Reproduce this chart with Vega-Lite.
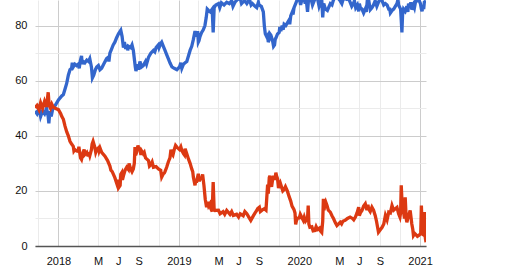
{
  "$schema": "https://vega.github.io/schema/vega-lite/v6.json",
  "width": 391,
  "height": 246,
  "autosize": {"type": "none"},
  "padding": {"left": 35, "top": 0, "right": 94, "bottom": 26},
  "background": "white",
  "config": {
    "view": {"stroke": null},
    "axis": {"labelFont": "Liberation Sans", "labelFontSize": 11, "labelColor": "#111111", "ticks": false, "tickSize": 0, "title": null}
  },
  "datasets": {
    "a": [
      {"date": "2017-10-22", "value": 49}, {"date": "2017-10-28", "value": 48}, {"date": "2017-11-03", "value": 50},
      {"date": "2017-11-08", "value": 47}, {"date": "2017-11-14", "value": 49}, {"date": "2017-11-20", "value": 48},
      {"date": "2017-11-26", "value": 50}, {"date": "2017-12-01", "value": 47}, {"date": "2017-12-03", "value": 44.5},
      {"date": "2017-12-06", "value": 49}, {"date": "2017-12-10", "value": 47}, {"date": "2017-12-16", "value": 50.5},
      {"date": "2017-12-22", "value": 51}, {"date": "2018-01-01", "value": 53}, {"date": "2018-01-11", "value": 54.5},
      {"date": "2018-01-16", "value": 55}, {"date": "2018-01-21", "value": 57}, {"date": "2018-01-26", "value": 59},
      {"date": "2018-01-31", "value": 62}, {"date": "2018-02-05", "value": 64}, {"date": "2018-02-10", "value": 64.5},
      {"date": "2018-02-12", "value": 66.5}, {"date": "2018-02-15", "value": 65}, {"date": "2018-02-20", "value": 66},
      {"date": "2018-02-25", "value": 65.5}, {"date": "2018-03-02", "value": 66}, {"date": "2018-03-05", "value": 64.5},
      {"date": "2018-03-08", "value": 67}, {"date": "2018-03-12", "value": 69}, {"date": "2018-03-14", "value": 66},
      {"date": "2018-03-17", "value": 67}, {"date": "2018-03-22", "value": 66.5}, {"date": "2018-03-28", "value": 67.5},
      {"date": "2018-04-02", "value": 67}, {"date": "2018-04-06", "value": 68}, {"date": "2018-04-11", "value": 65},
      {"date": "2018-04-14", "value": 61}, {"date": "2018-04-18", "value": 62}, {"date": "2018-04-23", "value": 64},
      {"date": "2018-04-27", "value": 65}, {"date": "2018-05-02", "value": 65.5}, {"date": "2018-05-07", "value": 64},
      {"date": "2018-05-12", "value": 64.5}, {"date": "2018-05-18", "value": 66}, {"date": "2018-05-27", "value": 68},
      {"date": "2018-06-01", "value": 68.5}, {"date": "2018-06-03", "value": 67}, {"date": "2018-06-06", "value": 70},
      {"date": "2018-06-11", "value": 71.5}, {"date": "2018-06-16", "value": 73}, {"date": "2018-06-21", "value": 74},
      {"date": "2018-06-26", "value": 75.5}, {"date": "2018-07-02", "value": 77}, {"date": "2018-07-09", "value": 78.3},
      {"date": "2018-07-13", "value": 76}, {"date": "2018-07-15", "value": 74}, {"date": "2018-07-17", "value": 72},
      {"date": "2018-07-20", "value": 74}, {"date": "2018-07-24", "value": 71.5}, {"date": "2018-07-28", "value": 73},
      {"date": "2018-07-30", "value": 71}, {"date": "2018-08-01", "value": 72.5}, {"date": "2018-08-08", "value": 72},
      {"date": "2018-08-12", "value": 73}, {"date": "2018-08-16", "value": 71}, {"date": "2018-08-20", "value": 67},
      {"date": "2018-08-22", "value": 65}, {"date": "2018-08-24", "value": 63.5}, {"date": "2018-08-28", "value": 66},
      {"date": "2018-09-01", "value": 64}, {"date": "2018-09-05", "value": 67}, {"date": "2018-09-10", "value": 65},
      {"date": "2018-09-15", "value": 65.5}, {"date": "2018-09-22", "value": 67}, {"date": "2018-09-25", "value": 66},
      {"date": "2018-10-01", "value": 68.5}, {"date": "2018-10-08", "value": 70}, {"date": "2018-10-16", "value": 71},
      {"date": "2018-10-20", "value": 70.5}, {"date": "2018-10-24", "value": 72}, {"date": "2018-10-31", "value": 73},
      {"date": "2018-11-02", "value": 72}, {"date": "2018-11-07", "value": 73.5}, {"date": "2018-11-10", "value": 74},
      {"date": "2018-11-15", "value": 72.5}, {"date": "2018-11-20", "value": 71}, {"date": "2018-11-25", "value": 69.5},
      {"date": "2018-11-30", "value": 68}, {"date": "2018-12-05", "value": 66.5}, {"date": "2018-12-11", "value": 65},
      {"date": "2018-12-18", "value": 64.5}, {"date": "2018-12-26", "value": 64}, {"date": "2019-01-03", "value": 65},
      {"date": "2019-01-07", "value": 66.5}, {"date": "2019-01-10", "value": 64.5}, {"date": "2019-01-15", "value": 66},
      {"date": "2019-01-20", "value": 66.5}, {"date": "2019-01-25", "value": 67}, {"date": "2019-01-30", "value": 69},
      {"date": "2019-02-04", "value": 71}, {"date": "2019-02-09", "value": 72.5}, {"date": "2019-02-14", "value": 75},
      {"date": "2019-02-19", "value": 78}, {"date": "2019-02-24", "value": 76}, {"date": "2019-02-27", "value": 78},
      {"date": "2019-03-01", "value": 74}, {"date": "2019-03-03", "value": 74.5}, {"date": "2019-03-06", "value": 76},
      {"date": "2019-03-11", "value": 77.5}, {"date": "2019-03-16", "value": 78.5}, {"date": "2019-03-21", "value": 80},
      {"date": "2019-03-25", "value": 83}, {"date": "2019-03-28", "value": 86}, {"date": "2019-04-01", "value": 85.5},
      {"date": "2019-04-06", "value": 85}, {"date": "2019-04-12", "value": 86}, {"date": "2019-04-15", "value": 77.5},
      {"date": "2019-04-18", "value": 86.5}, {"date": "2019-04-23", "value": 87.5}, {"date": "2019-05-01", "value": 88},
      {"date": "2019-05-05", "value": 86.5}, {"date": "2019-05-10", "value": 88.3}, {"date": "2019-05-18", "value": 87.5},
      {"date": "2019-05-26", "value": 88.5}, {"date": "2019-06-03", "value": 88}, {"date": "2019-06-10", "value": 89},
      {"date": "2019-06-14", "value": 87}, {"date": "2019-06-20", "value": 88.5}, {"date": "2019-06-28", "value": 89.5},
      {"date": "2019-07-06", "value": 90}, {"date": "2019-07-10", "value": 88}, {"date": "2019-07-14", "value": 88.5},
      {"date": "2019-07-20", "value": 89}, {"date": "2019-07-26", "value": 88}, {"date": "2019-08-03", "value": 89.5},
      {"date": "2019-08-08", "value": 87.5}, {"date": "2019-08-12", "value": 88}, {"date": "2019-08-20", "value": 87},
      {"date": "2019-08-25", "value": 86.5}, {"date": "2019-08-30", "value": 88.5}, {"date": "2019-09-01", "value": 87.5},
      {"date": "2019-09-08", "value": 87}, {"date": "2019-09-14", "value": 85}, {"date": "2019-09-17", "value": 80},
      {"date": "2019-09-20", "value": 77}, {"date": "2019-09-24", "value": 76}, {"date": "2019-09-27", "value": 76.5},
      {"date": "2019-09-29", "value": 74}, {"date": "2019-10-02", "value": 75}, {"date": "2019-10-04", "value": 77},
      {"date": "2019-10-07", "value": 76.5}, {"date": "2019-10-12", "value": 74.5}, {"date": "2019-10-15", "value": 72.5},
      {"date": "2019-10-18", "value": 73}, {"date": "2019-10-20", "value": 75}, {"date": "2019-10-22", "value": 75.5},
      {"date": "2019-10-27", "value": 77}, {"date": "2019-11-01", "value": 77.5}, {"date": "2019-11-03", "value": 79.5},
      {"date": "2019-11-06", "value": 78}, {"date": "2019-11-10", "value": 80}, {"date": "2019-11-13", "value": 78.5},
      {"date": "2019-11-16", "value": 80.5}, {"date": "2019-11-21", "value": 80}, {"date": "2019-11-26", "value": 81},
      {"date": "2019-12-01", "value": 82}, {"date": "2019-12-03", "value": 80.5}, {"date": "2019-12-06", "value": 83.5},
      {"date": "2019-12-11", "value": 85}, {"date": "2019-12-13", "value": 84}, {"date": "2019-12-16", "value": 86.5},
      {"date": "2019-12-21", "value": 88}, {"date": "2019-12-26", "value": 89.5}, {"date": "2020-01-01", "value": 90},
      {"date": "2020-01-05", "value": 87.5}, {"date": "2020-01-08", "value": 89}, {"date": "2020-01-15", "value": 90},
      {"date": "2020-01-19", "value": 88}, {"date": "2020-01-22", "value": 89.5}, {"date": "2020-01-26", "value": 85},
      {"date": "2020-01-29", "value": 89.5}, {"date": "2020-02-05", "value": 90}, {"date": "2020-02-10", "value": 87.5},
      {"date": "2020-02-15", "value": 89}, {"date": "2020-02-20", "value": 90.5}, {"date": "2020-02-25", "value": 90},
      {"date": "2020-03-01", "value": 87}, {"date": "2020-03-04", "value": 88}, {"date": "2020-03-09", "value": 89.5},
      {"date": "2020-03-12", "value": 83}, {"date": "2020-03-15", "value": 88}, {"date": "2020-03-20", "value": 86},
      {"date": "2020-03-26", "value": 85.5}, {"date": "2020-04-04", "value": 88}, {"date": "2020-04-09", "value": 87.5},
      {"date": "2020-04-14", "value": 89.5}, {"date": "2020-04-19", "value": 90}, {"date": "2020-04-24", "value": 90.5},
      {"date": "2020-05-04", "value": 89}, {"date": "2020-05-09", "value": 88}, {"date": "2020-05-14", "value": 90},
      {"date": "2020-05-24", "value": 89.5}, {"date": "2020-05-29", "value": 90}, {"date": "2020-06-03", "value": 88.5},
      {"date": "2020-06-08", "value": 87}, {"date": "2020-06-13", "value": 88}, {"date": "2020-06-16", "value": 89},
      {"date": "2020-06-20", "value": 86.5}, {"date": "2020-06-25", "value": 87.5}, {"date": "2020-06-29", "value": 85.2},
      {"date": "2020-07-01", "value": 88}, {"date": "2020-07-04", "value": 86.5}, {"date": "2020-07-09", "value": 86},
      {"date": "2020-07-14", "value": 84.6}, {"date": "2020-07-19", "value": 86}, {"date": "2020-07-22", "value": 85},
      {"date": "2020-07-25", "value": 89}, {"date": "2020-07-29", "value": 89.5}, {"date": "2020-08-03", "value": 85.8},
      {"date": "2020-08-08", "value": 86.5}, {"date": "2020-08-13", "value": 87.5}, {"date": "2020-08-18", "value": 89},
      {"date": "2020-08-23", "value": 87}, {"date": "2020-08-28", "value": 88.5}, {"date": "2020-09-03", "value": 90},
      {"date": "2020-09-08", "value": 89}, {"date": "2020-09-13", "value": 87.5}, {"date": "2020-09-18", "value": 88},
      {"date": "2020-09-23", "value": 87.5}, {"date": "2020-09-28", "value": 86}, {"date": "2020-10-01", "value": 86},
      {"date": "2020-10-03", "value": 84.6}, {"date": "2020-10-08", "value": 85.5}, {"date": "2020-10-13", "value": 86},
      {"date": "2020-10-18", "value": 87}, {"date": "2020-10-23", "value": 88}, {"date": "2020-10-26", "value": 89.5},
      {"date": "2020-10-28", "value": 87.5}, {"date": "2020-11-03", "value": 86}, {"date": "2020-11-05", "value": 82},
      {"date": "2020-11-07", "value": 77.5}, {"date": "2020-11-09", "value": 84}, {"date": "2020-11-12", "value": 86},
      {"date": "2020-11-17", "value": 85.2}, {"date": "2020-11-22", "value": 87}, {"date": "2020-11-25", "value": 85},
      {"date": "2020-11-27", "value": 88}, {"date": "2020-12-02", "value": 86.5}, {"date": "2020-12-04", "value": 88.5},
      {"date": "2020-12-07", "value": 85.8}, {"date": "2020-12-12", "value": 87.5}, {"date": "2020-12-15", "value": 86.5},
      {"date": "2020-12-18", "value": 88.5}, {"date": "2020-12-20", "value": 90}, {"date": "2020-12-23", "value": 89},
      {"date": "2020-12-28", "value": 89.5}, {"date": "2021-01-02", "value": 88}, {"date": "2021-01-05", "value": 86},
      {"date": "2021-01-07", "value": 85.2}, {"date": "2021-01-10", "value": 87}, {"date": "2021-01-12", "value": 86},
      {"date": "2021-01-14", "value": 88.5}, {"date": "2021-01-19", "value": 89}
    ],
    "b": [
      {"date": "2017-10-22", "value": 50.2}, {"date": "2017-10-28", "value": 51}, {"date": "2017-11-03", "value": 49.5},
      {"date": "2017-11-08", "value": 52}, {"date": "2017-11-14", "value": 50}, {"date": "2017-11-20", "value": 52.5},
      {"date": "2017-11-26", "value": 50.5}, {"date": "2017-12-01", "value": 55.8}, {"date": "2017-12-04", "value": 51},
      {"date": "2017-12-08", "value": 50}, {"date": "2017-12-12", "value": 51.5}, {"date": "2017-12-16", "value": 50.5},
      {"date": "2017-12-22", "value": 50}, {"date": "2018-01-01", "value": 49.5}, {"date": "2018-01-08", "value": 48},
      {"date": "2018-01-11", "value": 47.1}, {"date": "2018-01-16", "value": 46}, {"date": "2018-01-21", "value": 43.5},
      {"date": "2018-01-26", "value": 41.5}, {"date": "2018-01-31", "value": 40}, {"date": "2018-02-05", "value": 38},
      {"date": "2018-02-10", "value": 37}, {"date": "2018-02-15", "value": 36.2}, {"date": "2018-02-17", "value": 34.5},
      {"date": "2018-02-20", "value": 35}, {"date": "2018-02-25", "value": 34.5}, {"date": "2018-03-02", "value": 34.4},
      {"date": "2018-03-04", "value": 36}, {"date": "2018-03-07", "value": 33.5}, {"date": "2018-03-09", "value": 32},
      {"date": "2018-03-12", "value": 31.4}, {"date": "2018-03-17", "value": 34}, {"date": "2018-03-20", "value": 35},
      {"date": "2018-03-22", "value": 33.2}, {"date": "2018-03-28", "value": 34}, {"date": "2018-04-01", "value": 32.6},
      {"date": "2018-04-03", "value": 34}, {"date": "2018-04-06", "value": 32.8}, {"date": "2018-04-11", "value": 35},
      {"date": "2018-04-13", "value": 37}, {"date": "2018-04-16", "value": 38}, {"date": "2018-04-21", "value": 36},
      {"date": "2018-04-24", "value": 34}, {"date": "2018-04-27", "value": 35}, {"date": "2018-05-02", "value": 35.6},
      {"date": "2018-05-04", "value": 34.5}, {"date": "2018-05-07", "value": 35.6}, {"date": "2018-05-12", "value": 34},
      {"date": "2018-05-22", "value": 32.6}, {"date": "2018-05-30", "value": 31}, {"date": "2018-06-06", "value": 29},
      {"date": "2018-06-09", "value": 27.5}, {"date": "2018-06-13", "value": 27}, {"date": "2018-06-21", "value": 24.8},
      {"date": "2018-06-26", "value": 23}, {"date": "2018-06-28", "value": 24}, {"date": "2018-07-02", "value": 21.1},
      {"date": "2018-07-07", "value": 22}, {"date": "2018-07-09", "value": 26}, {"date": "2018-07-12", "value": 26.6},
      {"date": "2018-07-14", "value": 24}, {"date": "2018-07-17", "value": 25.5}, {"date": "2018-07-22", "value": 27.5},
      {"date": "2018-07-27", "value": 28.6}, {"date": "2018-08-01", "value": 27.8}, {"date": "2018-08-03", "value": 30},
      {"date": "2018-08-08", "value": 28}, {"date": "2018-08-12", "value": 27}, {"date": "2018-08-16", "value": 28},
      {"date": "2018-08-19", "value": 30}, {"date": "2018-08-21", "value": 35.9}, {"date": "2018-08-23", "value": 33},
      {"date": "2018-08-26", "value": 34}, {"date": "2018-08-30", "value": 36.5}, {"date": "2018-09-01", "value": 35.5},
      {"date": "2018-09-05", "value": 35.3}, {"date": "2018-09-08", "value": 33}, {"date": "2018-09-10", "value": 34.5},
      {"date": "2018-09-15", "value": 33.5}, {"date": "2018-09-18", "value": 34}, {"date": "2018-09-22", "value": 32},
      {"date": "2018-10-01", "value": 31}, {"date": "2018-10-04", "value": 29}, {"date": "2018-10-08", "value": 29.5},
      {"date": "2018-10-12", "value": 30.5}, {"date": "2018-10-16", "value": 28.6}, {"date": "2018-10-24", "value": 28.8},
      {"date": "2018-10-31", "value": 28}, {"date": "2018-11-07", "value": 27.5}, {"date": "2018-11-10", "value": 25},
      {"date": "2018-11-15", "value": 26.2}, {"date": "2018-11-18", "value": 26.5}, {"date": "2018-11-20", "value": 27},
      {"date": "2018-11-25", "value": 28.6}, {"date": "2018-11-30", "value": 30.5}, {"date": "2018-12-05", "value": 32},
      {"date": "2018-12-08", "value": 35}, {"date": "2018-12-11", "value": 33.5}, {"date": "2018-12-14", "value": 33},
      {"date": "2018-12-18", "value": 35}, {"date": "2018-12-22", "value": 36.5}, {"date": "2018-12-26", "value": 35.9},
      {"date": "2019-01-03", "value": 35}, {"date": "2019-01-07", "value": 36}, {"date": "2019-01-10", "value": 34.7},
      {"date": "2019-01-15", "value": 33.5}, {"date": "2019-01-18", "value": 33}, {"date": "2019-01-20", "value": 35.3},
      {"date": "2019-01-25", "value": 33.5}, {"date": "2019-01-30", "value": 31.6}, {"date": "2019-02-04", "value": 30},
      {"date": "2019-02-09", "value": 28}, {"date": "2019-02-12", "value": 27}, {"date": "2019-02-14", "value": 25},
      {"date": "2019-02-19", "value": 22}, {"date": "2019-02-21", "value": 24}, {"date": "2019-02-23", "value": 23},
      {"date": "2019-03-01", "value": 26.2}, {"date": "2019-03-04", "value": 23.5}, {"date": "2019-03-06", "value": 24.5},
      {"date": "2019-03-11", "value": 24.4}, {"date": "2019-03-14", "value": 26}, {"date": "2019-03-18", "value": 22},
      {"date": "2019-03-22", "value": 17}, {"date": "2019-03-26", "value": 14.1}, {"date": "2019-03-29", "value": 16},
      {"date": "2019-04-01", "value": 14.5}, {"date": "2019-04-05", "value": 15.3}, {"date": "2019-04-08", "value": 13.5},
      {"date": "2019-04-12", "value": 12.5}, {"date": "2019-04-15", "value": 23.2}, {"date": "2019-04-18", "value": 13},
      {"date": "2019-04-20", "value": 12.9}, {"date": "2019-05-01", "value": 13}, {"date": "2019-05-06", "value": 11.7},
      {"date": "2019-05-15", "value": 12.5}, {"date": "2019-05-20", "value": 11.5}, {"date": "2019-05-26", "value": 12.9},
      {"date": "2019-06-05", "value": 11.5}, {"date": "2019-06-10", "value": 12.5}, {"date": "2019-06-15", "value": 11.1},
      {"date": "2019-06-25", "value": 11.5}, {"date": "2019-07-01", "value": 10.5}, {"date": "2019-07-06", "value": 11.7},
      {"date": "2019-07-15", "value": 11}, {"date": "2019-07-20", "value": 12.5}, {"date": "2019-07-26", "value": 11.7},
      {"date": "2019-08-01", "value": 10.5}, {"date": "2019-08-07", "value": 9.3}, {"date": "2019-08-15", "value": 11},
      {"date": "2019-08-20", "value": 12}, {"date": "2019-08-25", "value": 12.9}, {"date": "2019-08-28", "value": 13.6},
      {"date": "2019-09-02", "value": 14.1}, {"date": "2019-09-05", "value": 12.5}, {"date": "2019-09-10", "value": 13},
      {"date": "2019-09-17", "value": 13.5}, {"date": "2019-09-22", "value": 13}, {"date": "2019-09-27", "value": 22.3},
      {"date": "2019-09-29", "value": 19}, {"date": "2019-10-02", "value": 24.8}, {"date": "2019-10-04", "value": 25.5},
      {"date": "2019-10-07", "value": 22.5}, {"date": "2019-10-09", "value": 21.5}, {"date": "2019-10-12", "value": 24},
      {"date": "2019-10-14", "value": 25}, {"date": "2019-10-17", "value": 25}, {"date": "2019-10-19", "value": 24},
      {"date": "2019-10-22", "value": 26.6}, {"date": "2019-10-24", "value": 25.5}, {"date": "2019-10-27", "value": 24.5},
      {"date": "2019-10-30", "value": 21}, {"date": "2019-11-01", "value": 22.3}, {"date": "2019-11-04", "value": 23},
      {"date": "2019-11-08", "value": 21.5}, {"date": "2019-11-12", "value": 20}, {"date": "2019-11-16", "value": 20.5},
      {"date": "2019-11-20", "value": 21.5}, {"date": "2019-11-26", "value": 19.9}, {"date": "2019-12-01", "value": 18},
      {"date": "2019-12-06", "value": 16.3}, {"date": "2019-12-10", "value": 14.5}, {"date": "2019-12-16", "value": 13.2},
      {"date": "2019-12-19", "value": 12}, {"date": "2019-12-21", "value": 7.8}, {"date": "2019-12-23", "value": 9},
      {"date": "2019-12-26", "value": 10}, {"date": "2020-01-01", "value": 10.2}, {"date": "2020-01-04", "value": 11.5},
      {"date": "2020-01-08", "value": 10.5}, {"date": "2020-01-13", "value": 9.3}, {"date": "2020-01-16", "value": 10.5},
      {"date": "2020-01-20", "value": 9}, {"date": "2020-01-26", "value": 10}, {"date": "2020-01-28", "value": 14.7},
      {"date": "2020-01-30", "value": 8}, {"date": "2020-02-02", "value": 6.8}, {"date": "2020-02-08", "value": 7},
      {"date": "2020-02-12", "value": 5.5}, {"date": "2020-02-17", "value": 5.6}, {"date": "2020-02-21", "value": 7},
      {"date": "2020-02-25", "value": 6}, {"date": "2020-03-02", "value": 6.5}, {"date": "2020-03-04", "value": 5.6},
      {"date": "2020-03-09", "value": 4.9}, {"date": "2020-03-12", "value": 9}, {"date": "2020-03-14", "value": 17.1},
      {"date": "2020-03-16", "value": 13}, {"date": "2020-03-18", "value": 15}, {"date": "2020-03-21", "value": 16},
      {"date": "2020-03-25", "value": 14.7}, {"date": "2020-03-29", "value": 13}, {"date": "2020-04-04", "value": 12.3},
      {"date": "2020-04-09", "value": 11}, {"date": "2020-04-14", "value": 9.9}, {"date": "2020-04-19", "value": 8.5},
      {"date": "2020-04-24", "value": 7.4}, {"date": "2020-05-04", "value": 8.6}, {"date": "2020-05-08", "value": 8},
      {"date": "2020-05-12", "value": 9}, {"date": "2020-05-19", "value": 9.3}, {"date": "2020-05-26", "value": 10},
      {"date": "2020-06-03", "value": 10.5}, {"date": "2020-06-10", "value": 10}, {"date": "2020-06-14", "value": 9.5},
      {"date": "2020-06-19", "value": 10.5}, {"date": "2020-06-24", "value": 12}, {"date": "2020-06-29", "value": 14.1},
      {"date": "2020-07-01", "value": 11}, {"date": "2020-07-04", "value": 12}, {"date": "2020-07-09", "value": 12.9},
      {"date": "2020-07-14", "value": 14.5}, {"date": "2020-07-19", "value": 15.3}, {"date": "2020-07-24", "value": 13},
      {"date": "2020-07-27", "value": 15}, {"date": "2020-07-29", "value": 13.5}, {"date": "2020-08-03", "value": 12.5},
      {"date": "2020-08-08", "value": 14.1}, {"date": "2020-08-13", "value": 13}, {"date": "2020-08-18", "value": 11.1},
      {"date": "2020-08-22", "value": 9}, {"date": "2020-08-25", "value": 7}, {"date": "2020-08-28", "value": 5},
      {"date": "2020-09-03", "value": 6}, {"date": "2020-09-08", "value": 6.8}, {"date": "2020-09-13", "value": 8},
      {"date": "2020-09-18", "value": 11.1}, {"date": "2020-09-23", "value": 9.5}, {"date": "2020-09-28", "value": 12.3},
      {"date": "2020-10-03", "value": 12}, {"date": "2020-10-08", "value": 14.7}, {"date": "2020-10-13", "value": 13},
      {"date": "2020-10-18", "value": 13.5}, {"date": "2020-10-23", "value": 14}, {"date": "2020-10-28", "value": 11.7},
      {"date": "2020-11-01", "value": 10.5}, {"date": "2020-11-03", "value": 12}, {"date": "2020-11-05", "value": 22},
      {"date": "2020-11-08", "value": 14}, {"date": "2020-11-12", "value": 12.3}, {"date": "2020-11-15", "value": 10},
      {"date": "2020-11-17", "value": 17.7}, {"date": "2020-11-20", "value": 10}, {"date": "2020-11-22", "value": 8.6},
      {"date": "2020-11-27", "value": 11}, {"date": "2020-12-02", "value": 12.9}, {"date": "2020-12-05", "value": 10},
      {"date": "2020-12-07", "value": 8}, {"date": "2020-12-10", "value": 6}, {"date": "2020-12-12", "value": 3.8},
      {"date": "2020-12-16", "value": 4.5}, {"date": "2020-12-20", "value": 4}, {"date": "2020-12-24", "value": 3.5},
      {"date": "2020-12-28", "value": 3.8}, {"date": "2021-01-03", "value": 4.5}, {"date": "2021-01-05", "value": 14.7},
      {"date": "2021-01-08", "value": 4.3}, {"date": "2021-01-12", "value": 4}, {"date": "2021-01-14", "value": 12.3},
      {"date": "2021-01-17", "value": 3}, {"date": "2021-01-19", "value": 1.4}
    ]
  },
  "encoding": {
    "x": {
      "field": "date",
      "type": "temporal",
      "scale": {
        "type": "utc",
        "domain": [
          {"year": 2017, "month": 10, "date": 22, "utc": true},
          {"year": 2021, "month": 1, "date": 19, "utc": true}
        ]
      },
      "axis": {
        "values": [
          {"year": 2017, "month": 11, "date": 1, "utc": true},
          {"year": 2018, "month": 1, "date": 1, "utc": true},
          {"year": 2018, "month": 3, "date": 1, "utc": true},
          {"year": 2018, "month": 5, "date": 1, "utc": true},
          {"year": 2018, "month": 7, "date": 1, "utc": true},
          {"year": 2018, "month": 9, "date": 1, "utc": true},
          {"year": 2018, "month": 11, "date": 1, "utc": true},
          {"year": 2019, "month": 1, "date": 1, "utc": true},
          {"year": 2019, "month": 3, "date": 1, "utc": true},
          {"year": 2019, "month": 5, "date": 1, "utc": true},
          {"year": 2019, "month": 7, "date": 1, "utc": true},
          {"year": 2019, "month": 9, "date": 1, "utc": true},
          {"year": 2019, "month": 11, "date": 1, "utc": true},
          {"year": 2020, "month": 1, "date": 1, "utc": true},
          {"year": 2020, "month": 3, "date": 1, "utc": true},
          {"year": 2020, "month": 5, "date": 1, "utc": true},
          {"year": 2020, "month": 7, "date": 1, "utc": true},
          {"year": 2020, "month": 9, "date": 1, "utc": true},
          {"year": 2020, "month": 11, "date": 1, "utc": true},
          {"year": 2021, "month": 1, "date": 1, "utc": true}
        ],
        "labelExpr": "utcmonth(datum.value) == 0 ? utcFormat(datum.value, '%Y') : utcmonth(datum.value) == 4 ? 'M' : utcmonth(datum.value) == 6 ? 'J' : utcmonth(datum.value) == 8 ? 'S' : ''",
        "labelPadding": 9,
        "labelOverlap": false,
        "labelFlush": false,
        "grid": true,
        "gridColor": {"condition": {"test": "utcmonth(datum.value) == 0", "value": "#cccccc"}, "value": "#ebebeb"},
        "gridWidth": 1,
        "domain": true,
        "domainColor": "#555555",
        "domainWidth": 1.5
      }
    },
    "y": {
      "field": "value",
      "type": "quantitative",
      "scale": {"domain": [0, 89.3], "nice": false, "zero": true},
      "axis": {
        "values": [0, 10, 20, 30, 40, 50, 60, 70, 80],
        "labelExpr": "datum.value % 20 == 0 ? datum.label : ''",
        "labelPadding": 8,
        "domain": false,
        "grid": true,
        "gridColor": {"condition": {"test": "datum.value % 20 == 0", "value": "#cccccc"}, "value": "#ebebeb"},
        "gridWidth": 1
      }
    }
  },
  "layer": [
    {
      "data": {"name": "a"},
      "mark": {"type": "line", "strokeWidth": 3.3, "clip": true, "color": "#3366cc"}
    },
    {
      "data": {"name": "b"},
      "mark": {"type": "line", "strokeWidth": 3.3, "clip": true, "color": "#dc3912"}
    }
  ]
}
